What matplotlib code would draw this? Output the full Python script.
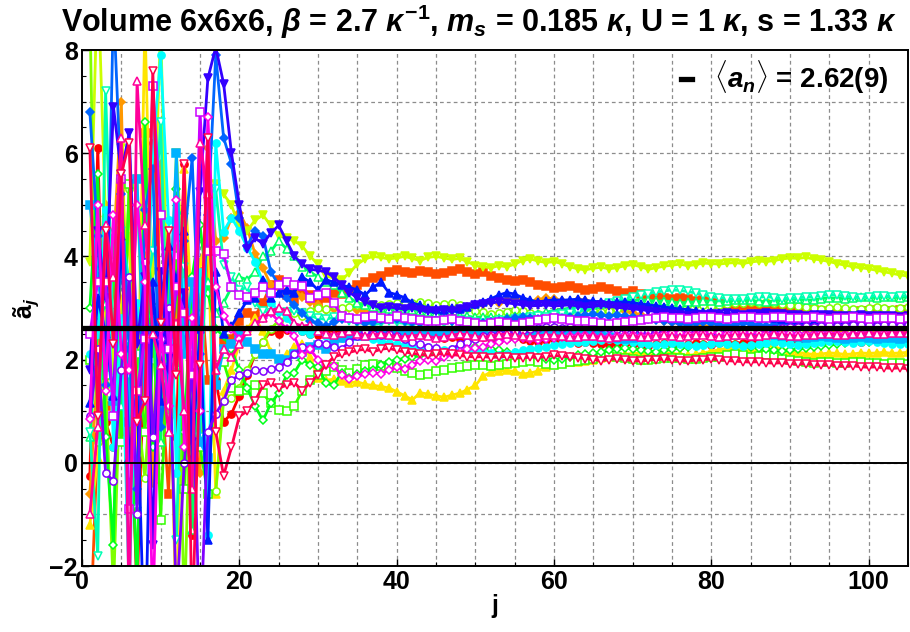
import colorsys
import matplotlib
matplotlib.use('Agg')
import matplotlib.pyplot as plt
from matplotlib.ticker import MultipleLocator

plt.rcParams['font.family'] = ['Liberation Sans', 'DejaVu Sans']
plt.rcParams['font.weight'] = 'bold'
plt.rcParams['mathtext.fontset'] = 'custom'
plt.rcParams['mathtext.rm'] = 'Liberation Sans:bold'
plt.rcParams['mathtext.it'] = 'Liberation Sans:bold:italic'
plt.rcParams['mathtext.bf'] = 'Liberation Sans:bold'

# running estimates a~_j for j = 1, 2, ... (one list per chain)
s00 = [-0.25, 6.1, 0.8, 0.3, 4.1, 1.9, -2.6, 2.7, 6.2, 1.5, 2.9, 0.5, 5.8, -1.4, 3.4, 3.9, 1.6,
       0.80, 0.95, 1.30, 1.70, 2.10, 2.35, 2.55, 2.50, 2.58, 2.62, 2.55, 2.50, 2.48, 2.52, 2.60, 2.55, 2.48, 2.52, 2.55, 2.50, 2.47, 2.52, 2.50,
       2.48, 2.45, 2.47, 2.50, 2.46, 2.42, 2.44, 2.40, 2.42, 2.45, 2.43, 2.40, 2.38, 2.41, 2.43, 2.40, 2.37, 2.35, 2.38, 2.40,
       2.37, 2.34, 2.32, 2.35, 2.33, 2.30, 2.28, 2.31, 2.33, 2.30, 2.28, 2.27, 2.30, 2.32, 2.29, 2.27, 2.30, 2.33, 2.31, 2.29,
       2.32, 2.34, 2.31, 2.33, 2.36, 2.34, 2.32, 2.35, 2.37, 2.35, 2.33, 2.36, 2.38, 2.36, 2.34, 2.37, 2.39, 2.37, 2.35, 2.38,
       2.40, 2.38, 2.36, 2.38, 2.37]
s01 = [-3.5, 0.5, 1.1, 3.7, 0.6, 2.7, -0.2, 6.4, 2.3, 1.7, -0.6, 3.3, 2.9, 1.6, 3.7, 1.6, 1.5,
       2.35, 2.40, 2.75, 2.90, 2.85, 3.10, 3.45, 3.55, 3.25, 3.15, 3.35, 3.25, 3.10, 3.20, 3.30, 3.28, 3.35, 3.45, 3.50, 3.58, 3.62, 3.70, 3.74,
       3.70, 3.68, 3.72, 3.70, 3.66, 3.68, 3.72, 3.75, 3.70, 3.66, 3.70, 3.62, 3.58, 3.55, 3.52, 3.55, 3.50, 3.45, 3.42, 3.38,
       3.40, 3.42, 3.38, 3.35, 3.37, 3.40, 3.36, 3.32, 3.30, 3.33, 3.28, 3.25, 3.22, 3.20, 3.18, 3.20, 3.17, 3.14, 3.15, 3.12,
       3.10, 3.08, 3.06, 3.04, 3.05, 3.02, 3.00, 2.98, 2.99, 2.97, 2.96, 2.95, 2.97, 2.94, 2.93, 2.95, 2.92, 2.93, 2.95, 2.94,
       2.96, 2.94, 2.95, 2.97, 2.96]
s02 = [-0.6, 1.9, 5.0, 4.1, 7.0, 0.5, 2.6, 4.0, -0.4, 5.8, 1.3, 2.7, 4.1, 0.7, -0.2, 6.1, 4.3,
       4.35, 4.75, 4.85, 4.55, 4.05, 3.77, 3.45, 3.38, 3.30, 3.35, 3.22, 3.12, 3.05, 2.97, 2.98, 2.96, 3.00, 2.97, 2.92, 2.95, 2.98, 3.00, 2.96,
       2.98, 3.02, 2.99, 2.96, 3.00, 3.03, 3.00, 2.97, 3.01, 3.05, 3.08, 3.12, 3.10, 3.15, 3.18, 3.15, 3.12, 3.16, 3.19, 3.17,
       3.14, 3.12, 3.15, 3.13, 3.10, 3.08, 3.04, 3.00, 2.95, 2.90, 2.86, 2.82, 2.78, 2.75, 2.72, 2.70, 2.68, 2.66, 2.65, 2.63,
       2.62, 2.60, 2.61, 2.59, 2.58, 2.60, 2.59, 2.57, 2.58, 2.60, 2.59, 2.58, 2.57, 2.59, 2.58, 2.56, 2.57, 2.59, 2.58, 2.57,
       2.56, 2.58, 2.57, 2.56, 2.57]
s03 = [-1.2, 0.1, 2.9, 1.8, 3.0, 4.4, 0.2, 8.6, 2.2, 1.2, 3.3, -3.4, 5.7, 2.7, 3.9, 4.3, -0.6,
       1.40, 1.80, 2.30, 2.60, 2.80, 2.55, 2.15, 1.90, 2.10, 2.25, 2.30, 2.05, 1.65, 1.60, 1.62, 1.58, 1.55, 1.57, 1.52, 1.50, 1.48, 1.45, 1.38,
       1.30, 1.22, 1.36, 1.33, 1.30, 1.27, 1.31, 1.35, 1.42, 1.50, 1.68, 1.76, 1.78, 1.79, 1.77, 1.72, 1.74, 1.78, 1.86, 1.93,
       1.95, 1.96, 1.95, 1.97, 2.00, 2.03, 2.05, 2.08, 2.10, 2.12, 2.13, 2.14, 2.15, 2.14, 2.12, 2.10, 2.08, 2.10, 2.13, 2.16,
       2.19, 2.22, 2.24, 2.23, 2.21, 2.24, 2.27, 2.25, 2.20, 2.16, 2.14, 2.12, 2.10, 2.11, 2.13, 2.12, 2.10, 2.11, 2.13, 2.12,
       2.13, 2.14, 2.12, 2.13, 2.14]
s04 = [3.9, 9.5, 4.7, 1.8, 6.1, 2.2, 5.5, 0.9, 3.7, 8.5, 2.1, 6.0, 3.3, 1.3, 2.9, 4.2, 5.4,
       5.20, 5.00, 4.55, 4.50, 4.70, 4.80, 4.60, 4.40, 4.35, 4.30, 4.20, 4.00, 3.85, 3.62, 3.58, 3.55, 3.68, 3.85, 3.95, 4.00, 3.98, 3.95, 3.97,
       4.00, 3.96, 3.92, 3.98, 4.00, 3.97, 3.94, 3.96, 3.90, 3.82, 3.80, 3.78, 3.82, 3.80, 3.85, 3.92, 3.95, 3.91, 3.88, 3.90,
       3.86, 3.80, 3.76, 3.74, 3.77, 3.79, 3.76, 3.78, 3.82, 3.84, 3.80, 3.75, 3.78, 3.81, 3.83, 3.85, 3.82, 3.84, 3.87, 3.86,
       3.85, 3.87, 3.88, 3.86, 3.89, 3.91, 3.90, 3.92, 3.95, 3.97, 3.96, 3.98, 3.95, 3.93, 3.90, 3.86, 3.83, 3.80, 3.78, 3.76,
       3.73, 3.70, 3.67, 3.64, 3.62]
s05 = [8.8, 0.4, 1.5, -2.5, 2.4, 5.3, 1.1, -0.3, 2.0, 3.2, 0.9, 4.3, -3.0, 2.6, 1.0, -0.6, -0.55,
       1.20, 1.25, 1.45, 1.80, 2.10, 2.35, 2.60, 2.75, 2.82, 2.90, 2.85, 2.95, 3.00, 2.98, 3.05, 3.00, 3.02, 3.06, 3.10, 3.08, 3.05, 3.08, 3.10,
       3.08, 3.10, 3.12, 3.09, 3.06, 3.08, 3.10, 3.05, 3.00, 2.95, 2.92, 2.88, 2.90, 2.93, 2.96, 2.94, 2.90, 2.88, 2.86, 2.88,
       2.90, 2.94, 2.98, 3.00, 2.96, 2.92, 2.95, 2.99, 3.02, 3.05, 3.06, 3.04, 3.07, 3.08, 3.06, 3.05, 3.07, 3.08, 3.06, 3.04,
       3.05, 3.07, 3.09, 3.10, 3.11, 3.10, 3.12, 3.10, 3.08, 3.06, 3.04, 3.02, 3.00, 2.99, 3.00, 3.01, 3.00, 2.99, 2.98, 3.00,
       3.01, 3.00, 2.99, 3.00, 3.01]
s06 = [2.0, 2.7, 1.7, 3.9, 0.4, 5.4, 2.1, 0.6, 3.0, -1.1, 2.6, 4.0, -0.5, 2.2, 0.3, -0.6, 1.9,
       1.95, 1.45, 1.40, 1.42, 1.50, 1.35, 1.15, 1.03, 1.00, 1.10, 1.40, 1.60, 1.70, 1.78, 1.85, 1.80, 1.75, 1.82, 1.90, 1.92, 1.88, 1.86, 1.84,
       1.78, 1.74, 1.70, 1.73, 1.78, 1.80, 1.83, 1.86, 1.88, 1.89, 1.90, 1.88, 1.90, 1.92, 1.93, 1.95, 1.97, 1.95, 1.92, 1.90,
       1.92, 1.95, 1.98, 2.00, 2.02, 2.05, 2.07, 2.05, 2.03, 2.02, 2.00, 1.99, 2.01, 2.03, 2.04, 2.03, 2.01, 2.02, 2.04, 2.05,
       2.06, 2.08, 2.10, 2.08, 2.06, 2.07, 2.08, 2.05, 2.02, 2.00, 1.97, 1.95, 1.94, 1.96, 1.95, 1.93, 1.94, 1.95, 1.96, 1.94,
       1.93, 1.92, 1.94, 1.93, 1.92]
s07 = [3.0, 5.6, 0.5, -1.6, 5.5, 1.7, -2.4, 6.6, 0.3, 1.8, 2.7, 5.3, 0.6, 3.6, 4.6, 3.3, 2.6,
       2.45, 2.20, 1.80, 1.45, 1.10, 0.82, 1.15, 1.35, 1.70, 1.75, 2.00, 1.90, 1.85, 1.55, 1.50, 1.75, 1.65, 1.72, 1.78, 1.80, 1.90, 1.95, 2.00,
       2.02, 2.05, 2.08, 2.10, 2.12, 2.15, 2.18, 2.20, 2.22, 2.24, 2.22, 2.20, 2.18, 2.15, 2.12, 2.10, 2.08, 2.05, 2.02, 2.00,
       2.02, 2.05, 2.08, 2.10, 2.12, 2.15, 2.18, 2.20, 2.22, 2.21, 2.19, 2.17, 2.15, 2.18, 2.20, 2.22, 2.25, 2.27, 2.28, 2.30,
       2.32, 2.30, 2.28, 2.26, 2.24, 2.22, 2.20, 2.18, 2.16, 2.18, 2.20, 2.22, 2.24, 2.26, 2.28, 2.30, 2.32, 2.34, 2.36, 2.35,
       2.36, 2.38, 2.37, 2.39, 2.40]
s08 = [0.5, 2.6, 3.1, 4.5, 1.1, 2.4, -0.8, 5.0, 2.9, 0.4, 3.8, 1.9, 4.9, -1.3, 2.9, 3.5, 2.9,
       3.10, 3.40, 3.60, 3.55, 3.70, 4.00, 4.10, 4.30, 4.15, 4.00, 3.80, 3.70, 3.60, 3.50, 3.45, 3.30, 3.20, 3.10, 3.05, 3.02, 3.00, 2.98, 3.00,
       2.98, 2.96, 2.95, 2.93, 2.90, 2.88, 2.86, 2.85, 2.84, 2.82, 2.83, 2.82, 2.80, 2.82, 2.84, 2.82, 2.85, 2.88, 2.92, 2.95,
       2.97, 3.00, 3.02, 3.04, 3.06, 3.08, 3.10, 3.12, 3.14, 3.15, 3.16, 3.15, 3.13, 3.14, 3.12, 3.10, 3.11, 3.12, 3.14, 3.13,
       3.12, 3.13, 3.15, 3.16, 3.15, 3.13, 3.12, 3.14, 3.16, 3.18, 3.17, 3.15, 3.16, 3.18, 3.20, 3.19, 3.18, 3.20, 3.22, 3.21,
       3.20, 3.22, 3.21, 3.20, 3.22]
s09 = [0.6, -1.8, 7.2, 2.3, 4.5, 3.5, 1.2, 3.2, 4.1, 6.6, 1.4, -1.5, 3.8, 2.2, 0.5, 5.2, 5.3,
       3.84, 3.60, 3.35, 3.40, 3.10, 2.95, 2.90, 2.88, 2.92, 2.95, 2.90, 2.85, 2.80, 2.78, 2.82, 2.80, 2.75, 2.70, 2.72, 2.68, 2.70, 2.74, 2.72,
       2.70, 2.68, 2.72, 2.75, 2.72, 2.70, 2.73, 2.76, 2.74, 2.72, 2.70, 2.73, 2.76, 2.75, 2.78, 2.80, 2.82, 2.85, 2.83, 2.86,
       2.88, 2.90, 2.93, 2.98, 3.03, 3.06, 3.10, 3.14, 3.18, 3.22, 3.26, 3.28, 3.31, 3.33, 3.35, 3.34, 3.32, 3.29, 3.26, 3.22,
       3.20, 3.18, 3.17, 3.18, 3.20, 3.21, 3.22, 3.20, 3.18, 3.19, 3.20, 3.21, 3.22, 3.24, 3.26, 3.25, 3.23, 3.21, 3.20, 3.22,
       3.24, 3.23, 3.22, 3.24, 3.23]
s10 = [2.1, 2.5, 4.9, 0.3, 2.8, -2.5, 3.1, 2.0, 6.0, 7.9, 4.7, -0.2, 3.5, 2.3, 3.7, -1.4, 6.2,
       4.48, 4.75, 4.50, 4.17, 3.90, 3.50, 3.10, 2.95, 2.80, 2.62, 2.55, 2.50, 2.55, 2.45, 2.40, 2.42, 2.48, 2.50, 2.45, 2.40, 2.36, 2.32, 2.30,
       2.28, 2.25, 2.22, 2.24, 2.20, 2.18, 2.20, 2.22, 2.20, 2.18, 2.15, 2.12, 2.08, 2.10, 2.14, 2.18, 2.20, 2.22, 2.25, 2.28,
       2.30, 2.32, 2.34, 2.35, 2.36, 2.38, 2.40, 2.38, 2.36, 2.34, 2.32, 2.30, 2.28, 2.30, 2.32, 2.30, 2.28, 2.26, 2.28, 2.30,
       2.32, 2.30, 2.28, 2.26, 2.28, 2.30, 2.32, 2.34, 2.32, 2.30, 2.28, 2.30, 2.33, 2.35, 2.37, 2.36, 2.34, 2.32, 2.34, 2.36,
       2.35, 2.33, 2.31, 2.30, 2.31]
s11 = [5.0, 3.6, 2.4, 1.2, 4.2, 0.8, 5.5, 1.2, 2.6, 3.4, 2.5, 6.0, 2.1, 3.5, 0.4, 0.1, 1.5,
       2.20, 2.30, 2.50, 2.35, 2.20, 2.10, 2.10, 2.02, 2.00, 2.10, 2.15, 2.25, 2.28, 2.20, 2.30, 2.42, 2.44, 2.46, 2.45, 2.48, 2.50, 2.48, 2.52,
       2.50, 2.53, 2.55, 2.52, 2.50, 2.48, 2.52, 2.55, 2.53, 2.50, 2.48, 2.46, 2.49, 2.52, 2.50, 2.47, 2.45, 2.47, 2.50, 2.52,
       2.50, 2.48, 2.50, 2.52, 2.50, 2.47, 2.44, 2.42, 2.40, 2.42, 2.44, 2.46, 2.48, 2.50, 2.52, 2.54, 2.52, 2.50, 2.51, 2.53,
       2.52, 2.50, 2.48, 2.50, 2.52, 2.51, 2.49, 2.47, 2.45, 2.46, 2.44, 2.42, 2.43, 2.45, 2.44, 2.42, 2.40, 2.41, 2.43, 2.42,
       2.40, 2.41, 2.42, 2.40, 2.41]
s12 = [6.8, 4.4, 1.5, 8.9, 5.2, 2.2, -0.5, 4.9, 5.7, 0.7, 1.9, 3.4, 4.3, 5.9, 2.1, 4.8, 7.9,
       6.30, 5.80, 4.75, 4.20, 4.50, 4.40, 3.70, 3.45, 3.20, 3.05, 2.90, 2.75, 2.70, 2.65, 2.72, 2.78, 2.80, 2.75, 2.70, 2.72, 2.76, 2.80, 2.78,
       2.75, 2.72, 2.70, 2.73, 2.76, 2.78, 2.75, 2.72, 2.70, 2.68, 2.70, 2.72, 2.75, 2.78, 2.80, 2.82, 2.80, 2.78, 2.76, 2.78,
       2.80, 2.82, 2.84, 2.86, 2.88, 2.86, 2.85, 2.87, 2.85, 2.82, 2.80, 2.78, 2.76, 2.74, 2.72, 2.70, 2.68, 2.70, 2.72, 2.70,
       2.68, 2.66, 2.68, 2.70, 2.69, 2.67, 2.66, 2.68, 2.70, 2.69, 2.67, 2.66, 2.65, 2.67, 2.68, 2.66, 2.65, 2.64, 2.66, 2.67,
       2.66, 2.65, 2.64, 2.66, 2.65]
s13 = [1.15, 3.2, 2.5, 1.3, 4.4, 0.1, 1.4, -4.0, 3.5, 1.2, 4.2, 3.5, 4.5, 0.1, 2.6, -1.5, 3.7,
       2.50, 2.65, 2.90, 3.15, 3.20, 3.55, 3.20, 3.30, 3.35, 3.30, 3.60, 3.50, 3.35, 3.55, 3.50, 3.45, 3.40, 3.35, 3.25, 3.40, 3.50, 3.30, 3.26,
       3.20, 3.10, 3.05, 3.00, 2.98, 2.96, 3.00, 2.98, 3.02, 3.08, 3.12, 3.18, 3.25, 3.30, 3.27, 3.20, 3.15, 3.12, 3.14, 3.16,
       3.15, 3.16, 3.17, 3.15, 3.13, 3.12, 3.10, 3.11, 3.12, 3.10, 3.08, 3.06, 3.04, 3.02, 3.00, 2.98, 2.97, 2.95, 2.93, 2.92,
       2.90, 2.88, 2.86, 2.85, 2.84, 2.83, 2.82, 2.80, 2.79, 2.78, 2.77, 2.76, 2.75, 2.74, 2.73, 2.72, 2.71, 2.72, 2.71, 2.70,
       2.70, 2.69, 2.70, 2.69, 2.70]
s14 = [1.8, 4.5, 3.2, 6.9, 5.6, 6.4, 2.3, 3.6, -1.6, 3.7, 1.8, 2.5, 3.3, 0.4, 5.25, 7.45, 8.05,
       7.35, 6.00, 5.00, 4.15, 4.35, 4.25, 4.45, 4.60, 4.30, 4.00, 3.85, 3.75, 3.73, 3.70, 3.60, 3.45, 3.30, 3.20, 3.12, 3.05, 3.00, 3.02, 3.00,
       2.98, 3.00, 2.96, 2.94, 2.95, 2.97, 2.95, 2.98, 3.02, 3.05, 3.08, 3.10, 3.12, 3.10, 3.08, 3.06, 3.04, 3.05, 3.06, 3.04,
       3.05, 3.06, 3.04, 3.02, 3.03, 3.05, 3.03, 3.01, 3.00, 2.98, 2.97, 2.95, 2.93, 2.90, 2.88, 2.86, 2.85, 2.86, 2.87, 2.88,
       2.89, 2.90, 2.88, 2.87, 2.88, 2.89, 2.90, 2.89, 2.88, 2.87, 2.86, 2.85, 2.86, 2.87, 2.86, 2.85, 2.84, 2.85, 2.86, 2.85,
       2.84, 2.85, 2.84, 2.83, 2.84]
s15 = [0.9, 2.2, -0.2, -0.35, 1.8, 3.6, -1.0, 3.9, 0.5, 2.4, 3.0, -2.8, 0.0, 1.9, -3.5, 0.6, 0.95,
       1.20, 1.60, 1.70, 1.75, 1.80, 1.78, 1.82, 1.85, 1.95, 2.10, 2.25, 2.20, 2.33, 2.30, 2.25, 2.20, 2.35, 2.45, 2.55, 2.50, 2.48, 2.50, 2.45,
       2.40, 2.35, 2.30, 2.25, 2.22, 2.15, 2.20, 2.30, 2.35, 2.40, 2.45, 2.48, 2.50, 2.52, 2.55, 2.58, 2.60, 2.62, 2.64, 2.63,
       2.62, 2.64, 2.65, 2.66, 2.64, 2.63, 2.62, 2.60, 2.59, 2.58, 2.57, 2.56, 2.57, 2.58, 2.57, 2.56, 2.55, 2.56, 2.55, 2.54,
       2.55, 2.56, 2.55, 2.54, 2.55, 2.56, 2.58, 2.60, 2.62, 2.63, 2.64, 2.65, 2.64, 2.66, 2.67, 2.66, 2.65, 2.67, 2.68, 2.67,
       2.66, 2.67, 2.68, 2.66, 2.67]
s16 = [2.5, 3.5, 3.5, 0.9, 5.5, -0.9, 1.4, 2.4, 7.3, 4.8, 2.2, 3.4, 2.9, 1.7, 6.8, 4.1, 4.1,
       4.05, 3.40, 3.25, 3.22, 3.30, 3.40, 3.30, 3.45, 3.50, 3.45, 3.42, 3.20, 3.25, 3.30, 3.10, 2.85, 2.80, 2.78, 2.82, 2.85, 2.80, 2.78, 2.85,
       2.80, 2.78, 2.77, 2.75, 2.74, 2.76, 2.78, 2.75, 2.72, 2.70, 2.68, 2.70, 2.72, 2.70, 2.68, 2.70, 2.73, 2.76, 2.78, 2.80,
       2.78, 2.76, 2.75, 2.74, 2.72, 2.70, 2.69, 2.71, 2.73, 2.75, 2.76, 2.78, 2.80, 2.82, 2.81, 2.80, 2.79, 2.81, 2.83, 2.82,
       2.80, 2.79, 2.80, 2.82, 2.83, 2.81, 2.80, 2.82, 2.83, 2.81, 2.80, 2.81, 2.82, 2.80, 2.79, 2.80, 2.81, 2.82, 2.80, 2.79,
       2.80, 2.81, 2.80, 2.79, 2.80]
s17 = [0.85, 5.0, 1.4, 4.8, 2.1, 1.8, 5.0, 3.5, -2.9, 2.6, 1.1, 5.1, 0.3, 2.8, 1.0, 6.7, 3.4,
       2.85, 2.60, 2.40, 2.55, 2.65, 2.80, 2.90, 2.75, 2.60, 2.45, 2.08, 2.20, 2.00, 1.90, 1.88, 1.70, 1.62, 1.68, 1.72, 1.75, 1.72, 1.80, 1.85,
       1.82, 1.90, 1.97, 2.00, 1.98, 2.05, 2.10, 2.15, 2.20, 2.22, 2.25, 2.30, 2.35, 2.38, 2.40, 2.42, 2.40, 2.38, 2.40, 2.42,
       2.44, 2.45, 2.46, 2.47, 2.45, 2.43, 2.44, 2.46, 2.48, 2.47, 2.45, 2.46, 2.48, 2.50, 2.52, 2.51, 2.49, 2.50, 2.52, 2.53,
       2.52, 2.50, 2.51, 2.53, 2.54, 2.52, 2.50, 2.49, 2.51, 2.52, 2.50, 2.49, 2.50, 2.52, 2.51, 2.50, 2.49, 2.50, 2.51, 2.52,
       2.50, 2.51, 2.52, 2.51, 2.50]
s18 = [-1.0, 0.7, 4.6, 3.6, 6.3, -3.0, 7.4, 4.6, 2.5, 1.9, 0.6, 2.7, 1.0, -0.5, 6.2, 5.2, 1.8,
       2.20, 2.05, 2.30, 2.55, 2.70, 2.80, 2.95, 3.00, 2.95, 2.70, 2.65, 2.67, 2.55, 2.50, 2.48, 2.52, 2.55, 2.50, 2.46, 2.48, 2.50, 2.47, 2.45,
       2.44, 2.46, 2.48, 2.45, 2.42, 2.44, 2.47, 2.50, 2.48, 2.45, 2.43, 2.46, 2.48, 2.50, 2.47, 2.45, 2.44, 2.46, 2.48, 2.47,
       2.45, 2.43, 2.44, 2.46, 2.45, 2.43, 2.42, 2.44, 2.46, 2.45, 2.43, 2.44, 2.46, 2.47, 2.45, 2.44, 2.46, 2.48, 2.47, 2.45,
       2.44, 2.46, 2.47, 2.48, 2.46, 2.45, 2.47, 2.49, 2.48, 2.46, 2.45, 2.47, 2.48, 2.49, 2.50, 2.48, 2.47, 2.49, 2.50, 2.51,
       2.50, 2.49, 2.51, 2.52, 2.51]
s19 = [6.1, 0.9, 4.5, 2.3, 5.6, 6.2, 0.8, 1.2, 7.6, 2.7, 4.5, 1.7, 5.8, -3.2, 1.9, 6.3, 0.6,
       -0.25, 0.30, 0.90, 1.00, 1.20, 1.50, 1.55, 1.45, 1.50, 1.55, 1.40, 1.55, 1.70, 1.90, 2.05, 2.10, 2.14, 2.18, 2.20, 2.15, 2.20, 2.22, 2.18,
       2.15, 2.12, 2.10, 2.08, 2.10, 2.12, 2.10, 2.08, 2.06, 2.05, 2.06, 2.04, 2.05, 2.06, 2.04, 2.03, 2.05, 2.04, 2.06, 2.08,
       2.07, 2.05, 2.04, 2.02, 2.00, 1.98, 2.00, 2.02, 2.00, 1.98, 1.97, 1.99, 2.00, 2.01, 2.00, 1.98, 1.97, 1.99, 2.00, 2.01,
       2.00, 1.98, 1.97, 1.96, 1.95, 1.96, 1.94, 1.93, 1.94, 1.92, 1.91, 1.92, 1.90, 1.89, 1.90, 1.88, 1.87, 1.88, 1.86, 1.85,
       1.86, 1.84, 1.83, 1.84, 1.82]

chains = [s00, s01, s02, s03, s04, s05, s06, s07, s08, s09,
          s10, s11, s12, s13, s14, s15, s16, s17, s18, s19]
mean_a = 2.62
mean_label = r'$\langle a_n \rangle$ = 2.62(9)'

marker_shapes = ['o', 's', 'D', '^', 'v']

fig = plt.figure(figsize=(9.1, 6.32), dpi=100)
ax = fig.add_axes([82 / 910, 1 - 566 / 632, 826 / 910, 516 / 632])

n = len(chains)
for i, y in enumerate(chains):
    col = colorsys.hsv_to_rgb(i / n, 1, 1)
    mk = marker_shapes[i % 5]
    ms = 4.3 if mk == 'D' else 5.2
    face = col if (i % 10) < 5 else 'white'
    x = list(range(1, len(y) + 1))
    ax.plot(x, y, color=col, lw=2.0, marker=mk, ms=ms, mfc=face, mec=col, mew=1.1, zorder=2)

ax.axhline(0, color='black', lw=1.4, zorder=3)
mline, = ax.plot([0, 105], [mean_a, mean_a], color='black', lw=3.8, zorder=4)

ax.set_xlim(0, 105)
ax.set_ylim(-2, 8)
ax.xaxis.set_major_locator(MultipleLocator(20))
ax.xaxis.set_minor_locator(MultipleLocator(5))
ax.yaxis.set_major_locator(MultipleLocator(2))
ax.yaxis.set_minor_locator(MultipleLocator(0.5))
ax.tick_params(which='major', direction='in', length=5, width=1, labelsize=18, pad=3)
ax.tick_params(which='minor', direction='in', length=3, width=0.8)

# dashed grid every 5 in j and every 1 in a
for gx in range(5, 106, 5):
    ax.axvline(gx, color='#8c8c8c', lw=0.9, ls=(0, (3, 2.5)), zorder=0)
for gy in range(-1, 8):
    ax.axhline(gy, color='#8c8c8c', lw=0.9, ls=(0, (3, 2.5)), zorder=0)

for sp in ax.spines.values():
    sp.set_linewidth(1.4)

ax.set_xlabel('j', fontsize=18, fontweight='bold', labelpad=0)
ax.set_ylabel('ã$_j$', fontsize=18, fontweight='bold', labelpad=6)
ax.set_title(r'Volume 6x6x6, $\beta$ = 2.7 $\kappa^{-1}$, $m_s$ = 0.185 $\kappa$, U = 1 $\kappa$, s = 1.33 $\kappa$',
             fontsize=22, fontweight='bold', pad=13, x=0.48)

ax.legend([mline], [mean_label], loc='upper right', frameon=False, fontsize=20,
          handlelength=0.4, handletextpad=0.8, borderaxespad=0.0,
          bbox_to_anchor=(0.99, 1.005))

fig.savefig('out.png', dpi=100)
